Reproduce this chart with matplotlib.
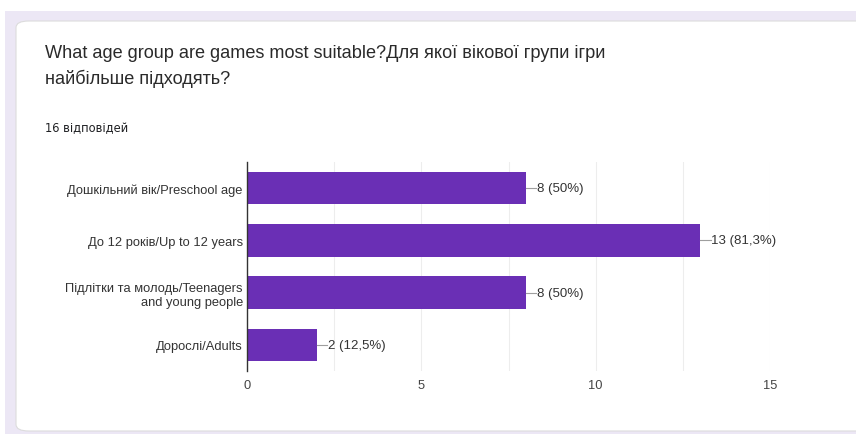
import matplotlib.pyplot as plt
from matplotlib.patches import FancyBboxPatch, Rectangle

# data
categories = ["Дошкільний вік/Preschool age",
              "До 12 років/Up to 12 years",
              "Підлітки та молодь/Teenagers\nand young people",
              "Дорослі/Adults"]
counts = [8, 13, 8, 2]
pct_labels = ["50%", "81,3%", "50%", "12,5%"]
x_ticks = [0, 5, 10, 15]

title = "What age group are games most suitable?Для якої вікової групи ігри\nнайбільше підходять?"
subtitle = "16 відповідей"

W, H = 856, 435
fig = plt.figure(figsize=(W / 100, H / 100), dpi=100)
fig.patch.set_facecolor("white")

# card background
fig.patches.append(Rectangle((5 / W, 0), 1, 1 - 12 / H, transform=fig.transFigure,
                             facecolor="#ece7f5", edgecolor="none", zorder=0))
fig.patches.append(FancyBboxPatch((16 / W, 3 / H), 900 / W, (H - 22 - 3) / H,
                                  boxstyle="round,pad=0,rounding_size=0.015",
                                  transform=fig.transFigure, facecolor="white",
                                  edgecolor="#dcdcdc", linewidth=0.8, zorder=1))

fig.text(45 / W, 1 - 45 / H, title, fontsize=13.1, color="#2a2a2a", va="top",
         ha="left", linespacing=1.55, family="Liberation Sans")
fig.text(45 / W, 1 - 129 / H, subtitle, fontsize=8.3, color="#202124", va="center",
         ha="left", family="DejaVu Sans")

ax = fig.add_axes([247 / W, 1 - 372 / H, (770 - 247) / W, (372 - 163) / H])
ax.set_zorder(3)
ax.set_facecolor("none")

ypos = list(range(len(categories)))
ax.barh(ypos, counts, height=0.62, color="#6a2fb5", zorder=3)

for y, c, p in zip(ypos, counts, pct_labels):
    ax.plot([c, c + 0.3], [y, y], color="#9e9e9e", lw=0.8, zorder=3)
    ax.text(c + 0.32, y, f"{c} ({p})", va="center", ha="left", fontsize=9.5,
            color="#333333", family="Liberation Sans")

ax.set_ylim(len(categories) - 0.5, -0.5)
ax.set_xlim(0, 15)
ax.set_yticks(ypos)
ax.set_yticklabels(categories, fontsize=9.3, color="#333333", family="Liberation Sans",
                   linespacing=1.25)
ax.set_xticks(x_ticks)
ax.set_xticklabels([str(t) for t in x_ticks], fontsize=9.3, color="#444444",
                   family="Liberation Sans")
ax.set_xticks([2.5, 7.5, 12.5], minor=True)
ax.tick_params(axis="both", which="both", length=0)
ax.tick_params(axis="y", pad=3)
ax.tick_params(axis="x", pad=6)
ax.grid(axis="x", which="both", color="#ededed", lw=0.8, zorder=0)
for s in ["top", "right", "bottom"]:
    ax.spines[s].set_visible(False)
ax.spines["left"].set_color("#333333")
ax.spines["left"].set_linewidth(1.0)
ax.spines["left"].set_zorder(4)

fig.savefig("out.png", dpi=100)
